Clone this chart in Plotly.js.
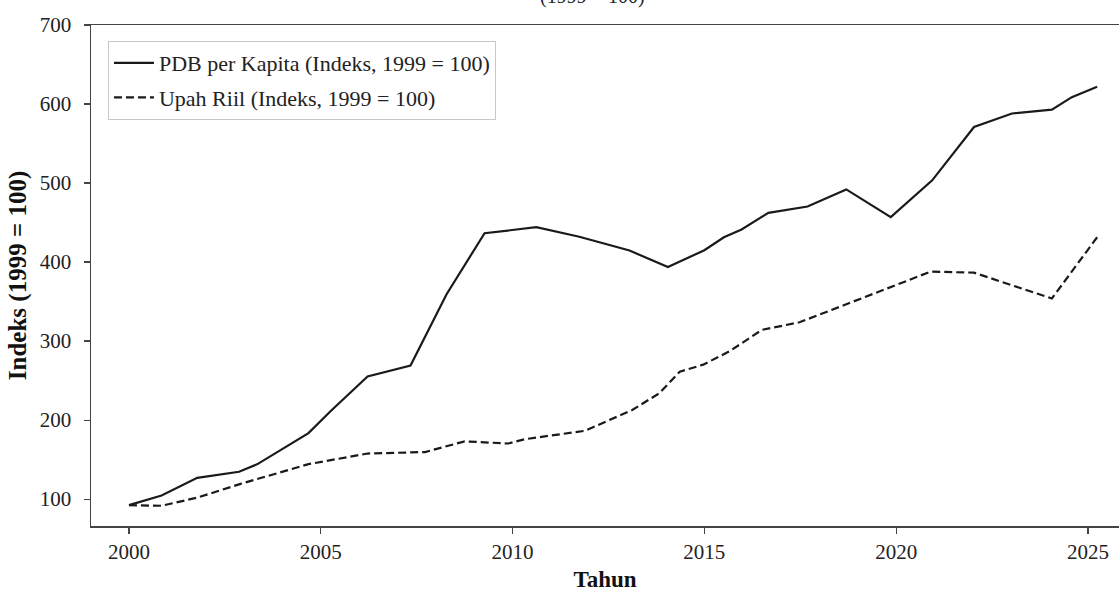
<!DOCTYPE html>
<html>
<head>
<meta charset="utf-8">
<script src="https://cdn.plot.ly/plotly-3.0.1.min.js"></script>
<style>
  html, body { margin: 0; padding: 0; background: #fff; }
  #chart { width: 1119px; height: 592px; }
</style>
</head>
<body>
<div id="chart"></div>
<script>
// Data
const pdbYears = [2000, 2000.85, 2001.78, 2002.87, 2003.35, 2004.68, 2005.24, 2006.22, 2007.34, 2008.28,
  2009.27, 2010.62, 2011.74, 2013.05, 2014.05, 2015.0, 2015.51, 2015.97, 2016.67, 2017.69,
  2018.7, 2019.86, 2020.94, 2022.03, 2023.02, 2024.06, 2024.58, 2025.24];
const pdbIndex = [92.4, 104.6, 127, 134.6, 144.3, 183.5, 210.6, 255.3, 269, 359.3,
  436.5, 444.1, 432.1, 414.6, 393.6, 415, 431.4, 441.3, 462.3, 470.3,
  491.9, 456.8, 503.4, 570.9, 588, 592.8, 608.7, 621.8];

const upahYears = [2000, 2000.85, 2001.79, 2002.91, 2004.68, 2006.22, 2007.72, 2008.75, 2009.89, 2010.31,
  2011.89, 2013.12, 2013.83, 2014.36, 2014.97, 2015.66, 2016.5, 2017.48, 2018.7, 2019.86,
  2020.9, 2022.03, 2024.06, 2025.24];
const upahIndex = [92.4, 91.6, 102, 119.3, 144.3, 157.7, 159.6, 173.1, 170.4, 175.8,
  186.5, 212.8, 234.1, 261.3, 270.2, 287.2, 314.2, 323.8, 346.6, 368.9,
  387.9, 386.6, 353.9, 431.4];

const seriesNames = ["PDB per Kapita (Indeks, 1999 = 100)", "Upah Riil (Indeks, 1999 = 100)"];
const xTicks = [2000, 2005, 2010, 2015, 2020, 2025];
const yTicks = [100, 200, 300, 400, 500, 600, 700];
const titleText = "(1999 = 100)";
const xTitle = "Tahun";
const yTitle = "Indeks (1999 = 100)";

const FONT = "'Liberation Serif', 'DejaVu Serif', serif";

const traces = [
  {
    x: pdbYears, y: pdbIndex, name: seriesNames[0], type: "scatter", mode: "lines",
    line: { color: "#1a1a1a", width: 2.2, dash: "solid" }, legendgroup: "a"
  },
  {
    x: upahYears, y: upahIndex, name: seriesNames[1], type: "scatter", mode: "lines",
    line: { color: "#1a1a1a", width: 2.2, dash: "8px,4px" }, legendgroup: "b"
  }
];

const layout = {
  width: 1119, height: 592,
  margin: { l: 91, r: 0, t: 25, b: 66, pad: 0 },
  paper_bgcolor: "#fff", plot_bgcolor: "#fff",
  font: { family: FONT, size: 22, color: "#222" },
  showlegend: true,
  legend: {
    x: 0.0165, y: 0.968, xanchor: "left", yanchor: "top",
    bgcolor: "rgba(255,255,255,0.9)", bordercolor: "#c8c8c8", borderwidth: 1,
    font: { family: FONT, size: 22, color: "#222" },
    traceorder: "grouped", tracegroupgap: 3, itemwidth: 40,
    entrywidth: 420, entrywidthmode: "pixels"
  },
  xaxis: {
    range: [1999.01, 2025.81],
    tickvals: xTicks, ticktext: xTicks.map(String),
    showgrid: false, zeroline: false,
    showline: true, linecolor: "#444", linewidth: 1.5, mirror: true,
    ticks: "outside", ticklen: 6, tickwidth: 1.2, tickcolor: "#444",
    tickfont: { family: FONT, size: 21, color: "#222" },
    title: { text: "<b>" + xTitle + "</b>", font: { family: FONT, size: 23, color: "#111" }, standoff: 16 }
  },
  yaxis: {
    range: [66, 700],
    tickvals: yTicks, ticktext: yTicks.map(String),
    showgrid: false, zeroline: false,
    showline: true, linecolor: "#444", linewidth: 1.5, mirror: false,
    ticks: "outside", ticklen: 6, tickwidth: 1.2, tickcolor: "#444",
    ticklabelstandoff: 8,
    tickfont: { family: FONT, size: 21, color: "#222" },
    title: { text: "<b>" + yTitle + "</b>", font: { family: FONT, size: 25, color: "#111" }, standoff: 6 }
  },
  annotations: [
    {
      text: titleText, xref: "paper", yref: "paper", x: 0.4874, y: 1.056,
      xanchor: "center", yanchor: "middle", showarrow: false,
      font: { family: FONT, size: 20, color: "#222" }
    }
  ]
};

Plotly.newPlot("chart", traces, layout, { displayModeBar: false, staticPlot: true });
</script>
</body>
</html>
